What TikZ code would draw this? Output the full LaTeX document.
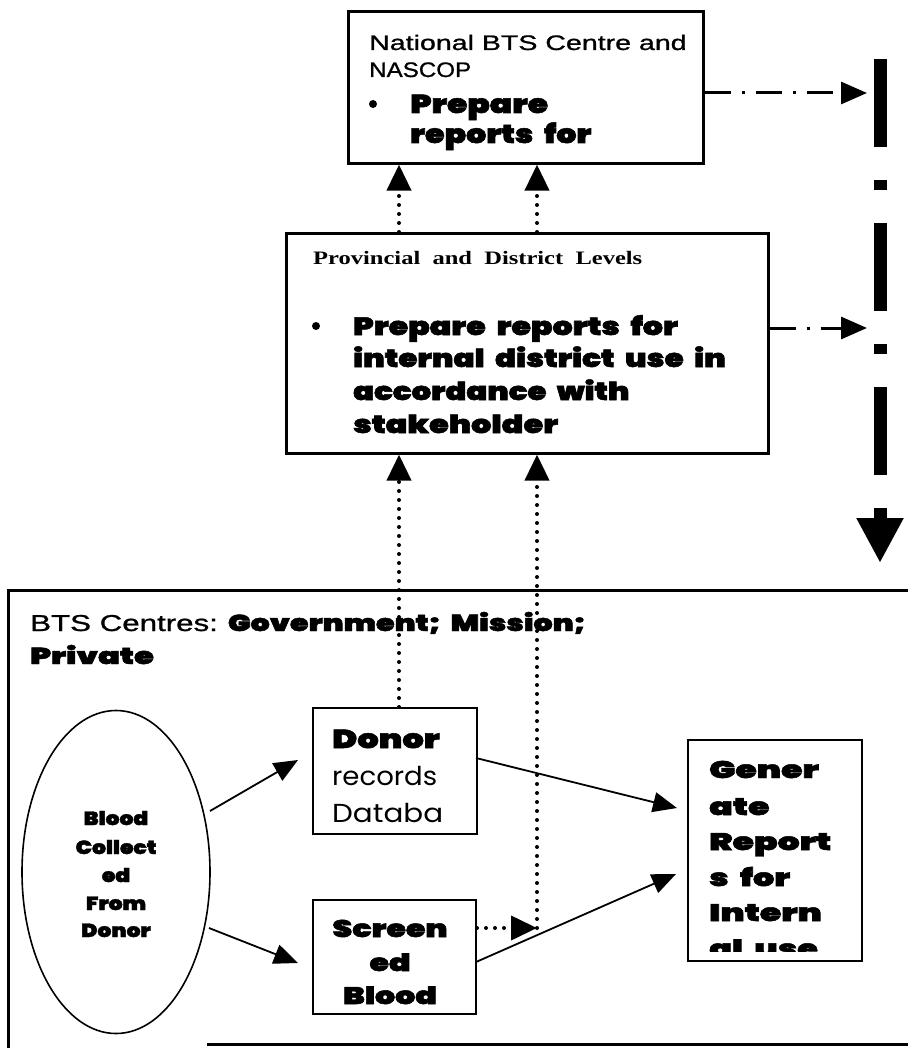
\documentclass[tikz,border=0pt]{standalone}
\usepackage{fontspec}
\setmainfont{Liberation Sans}
\newfontfamily\semi{Liberation Sans}[FakeBold=0.9]
\newfontfamily\heavy{Poppins Black}[FakeBold=2,WordSpace=2]
\newfontfamily\geo{Poppins}
\newfontfamily\ser{Liberation Serif}
\usetikzlibrary{arrows.meta,shapes.geometric}
\newcommand\sx[2]{\scalebox{#1}[1]{#2}}
\begin{document}
\begin{tikzpicture}[x=1pt,y=-1pt,
  frame/.style={draw, line width=2.6pt, inner sep=0, anchor=north west},
  thin frame/.style={draw, line width=2pt, inner sep=0, anchor=north west},
  t/.style={inner sep=0, anchor=base west},
  tc/.style={inner sep=0, anchor=base},
  solidarrow/.style={line width=1.8pt, -{Triangle[length=24pt,width=20pt]}},
  dotarrow/.style={line width=4pt, line cap=round, dash pattern=on 0pt off 9pt, -{Triangle[length=26pt,width=24pt]}},
  dasharrow/.style={line width=3pt, dash pattern=on 26pt off 11pt on 3pt off 11pt, -{Triangle[length=26pt,width=22pt]}},
  bigdash/.style={line width=13pt, dash pattern=on 88pt off 33pt on 10pt off 33pt, -{Triangle[length=45pt,width=44pt]}},
  hv/.style={font=\heavy\fontsize{24}{24}\selectfont},
  ehv/.style={font=\heavy\fontsize{19}{19}\selectfont},
]
\useasboundingbox (0,0) rectangle (907,1048);

% ---------- top box
\node[frame, minimum width=355pt, minimum height=152pt] (nat) at (347,10) {};
\node[t, font=\semi\fontsize{21}{21}\selectfont] (n1) at (369,50) {\sx{1.36}{National BTS Centre and}};
\node[t, font=\semi\fontsize{21}{21}\selectfont] (n2) at (369,77) {\sx{1.15}{NASCOP}};
\fill (373,104) circle (4);
\node[t, font=\heavy\fontsize{26}{26}\selectfont] (n3) at (410,113) {\sx{1.27}{Prepare}};
\node[t, font=\heavy\fontsize{26}{26}\selectfont] (n4) at (410,143) {\sx{1.22}{reports for}};

% ---------- middle box
\node[frame, minimum width=482pt, minimum height=220pt] (prov) at (285,232) {};
\node[t, font=\ser\bfseries\fontsize{19}{19}\selectfont] (p0) at (313,265) {\sx{1.29}{Provincial\ \ and\ \ District\ \ Levels}};
\fill (316,326) circle (4);
\node[t, font=\heavy\fontsize{25}{25}\selectfont] (p1) at (353,335) {\sx{1.27}{Prepare reports for}};
\node[t, font=\heavy\fontsize{25}{25}\selectfont] (p2) at (353,367) {\sx{1.24}{internal district use in}};
\node[t, font=\heavy\fontsize{25}{25}\selectfont] (p3) at (353,400) {\sx{1.23}{accordance with}};
\node[t, font=\heavy\fontsize{25}{25}\selectfont] (p4) at (353,433) {\sx{1.28}{stakeholder}};

% ---------- right side connectors
\coordinate (r1) at (867,93);
\coordinate (r2) at (867,328);
\draw[dasharrow] (nat.east |- r1) -- (r1);
\draw[dasharrow] (prov.east |- r2) -- (r2);
\coordinate (vtop) at (880,59);
\coordinate (vbot) at (880,563);
\draw[bigdash] (vtop) -- (vbot);

% ---------- bottom frame
\coordinate (bf1) at (207,1044);
\coordinate (bf2) at (920,1044);
\draw[line width=3pt] (920,590) -- (8,590) -- (8,1050);
\draw[line width=3pt] (bf1) -- (bf2);
\node[t, font=\semi\fontsize{23}{23}\selectfont] (b1) at (30,631) {\sx{1.36}{BTS Centres:}\hspace{10pt}{\heavy\sx{1.31}{Government; Mission;}}};
\node[t, font=\heavy\fontsize{23}{23}\selectfont] (b2) at (30,664) {\sx{1.4}{Private}};

% ellipse
\node[draw, line width=1.6pt, ellipse, minimum width=188pt, minimum height=323pt, inner sep=0] (blood) at (116,872) {};
\node[tc, ehv] (e1) at (116,825) {\sx{1.15}{Blood}};
\node[tc, ehv] (e2) at (116,854) {\sx{1.15}{Collect}};
\node[tc, ehv] (e3) at (116,882) {\sx{1.15}{ed}};
\node[tc, ehv] (e4) at (116,910) {\sx{1.15}{From}};
\node[tc, ehv] (e5) at (116,937) {\sx{1.15}{Donor}};

% donor box
\node[thin frame, minimum width=164pt, minimum height=126pt] (donor) at (312,707) {};
\node[t, font=\heavy\fontsize{26}{26}\selectfont] (d1) at (332,748) {\sx{1.3}{Donor}};
\node[t, font=\geo\fontsize{26}{26}\selectfont] (d2) at (332,785) {\sx{1.06}{records}};
\node[t, font=\geo\fontsize{26}{26}\selectfont] (d3) at (332,822) {\sx{1.13}{Databa}};

% screened box
\node[thin frame, minimum width=163pt, minimum height=114pt] (scr) at (312,899) {};
\node[tc, hv] (s1) at (390,937) {\sx{1.32}{Screen}};
\node[tc, hv] (s2) at (390,971) {\sx{1.32}{ed}};
\node[tc, hv] (s3) at (390,1004) {\sx{1.32}{Blood}};

% generate box
\node[thin frame, minimum width=174pt, minimum height=221pt] (gen) at (687,739) {};
\node[t, hv] (g1) at (709,778) {\sx{1.45}{Gener}};
\node[t, hv] (g2) at (709,815) {\sx{1.45}{ate}};
\node[t, hv] (g3) at (709,850) {\sx{1.45}{Report}};
\node[t, hv] (g4) at (709,886) {\sx{1.4}{s for}};
\node[t, hv] (g5) at (709,921) {\sx{1.45}{Intern}};
\begin{scope}
\clip (690,900) rectangle (858,951);
\node[t, hv] (g6) at (709,957) {\sx{1.4}{al use}};
\end{scope}

% solid arrows
\coordinate (a1s) at (210,811);
\coordinate (a1e) at (298,760);
\coordinate (a2s) at (209,928);
\coordinate (a2e) at (298,963);
\coordinate (a3s) at (476,758);
\coordinate (a3e) at (677,808);
\coordinate (a4s) at (476,962);
\coordinate (a4e) at (676,874);
\draw[solidarrow] (a1s) -- (a1e);
\draw[solidarrow] (a2s) -- (a2e);
\draw[solidarrow] (a3s) -- (a3e);
\draw[solidarrow] (a4s) -- (a4e);

% dotted arrows
\coordinate (x1) at (399,0);
\coordinate (x2) at (537,0);
\draw[dotarrow] (donor.north -| x1) -- (prov.south -| x1);
\coordinate (sd) at (537,928);
\draw[dotarrow] (sd) -- (prov.south -| x2);
\draw[dotarrow] (scr.east |- sd) -- (sd);
\draw[dotarrow] (prov.north -| x1) -- (nat.south -| x1);
\draw[dotarrow] (prov.north -| x2) -- (nat.south -| x2);
\end{tikzpicture}
\end{document}
